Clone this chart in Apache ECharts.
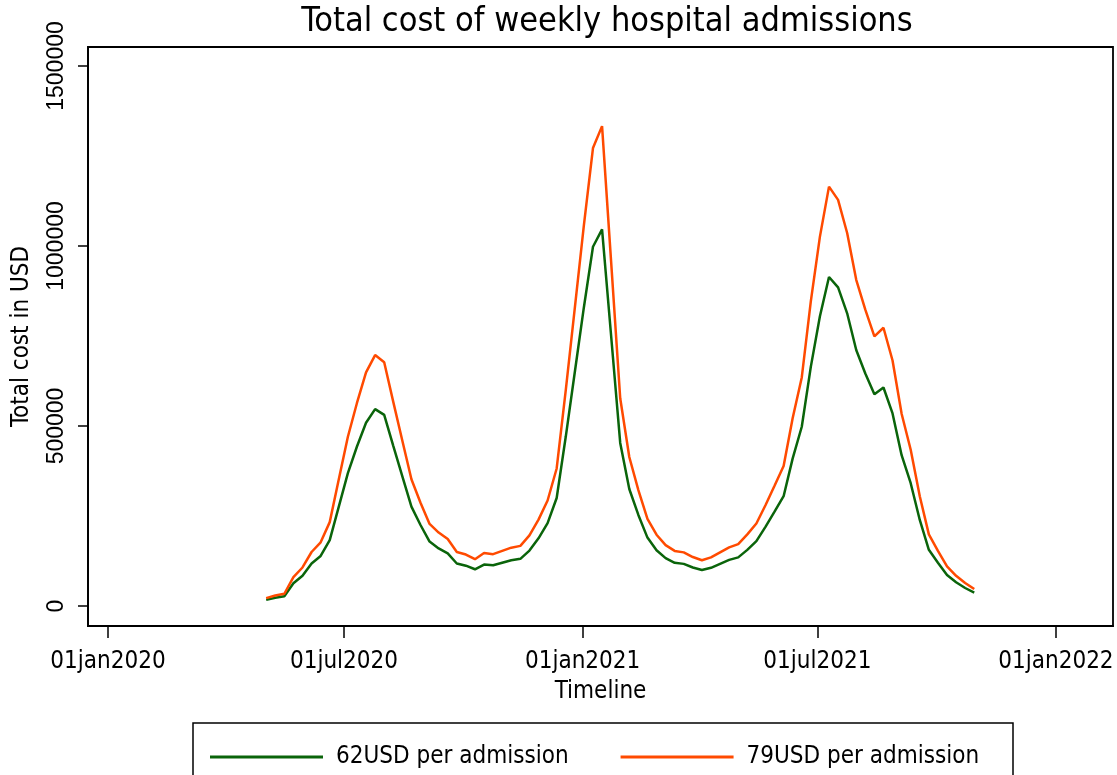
<!DOCTYPE html>
<html>
<head>
<meta charset="utf-8">
<script src="https://cdn.jsdelivr.net/npm/echarts@6/dist/echarts.min.js"></script>
<style>
  html, body { margin: 0; padding: 0; background: #fff; }
  #chart { width: 1117px; height: 775px; }
</style>
</head>
<body>
<div id="chart"></div>
<script>
// first week and weekly step (categories on the time axis)
const startDate = Date.UTC(2020, 4, 2);
const weekMs = 7 * 24 * 3600 * 1000;

// total cost, 62 USD per admission
const cost62 = [
  17000, 23000, 27000, 63000, 84000, 118000, 139000, 183000, 276000, 369000,
  443000, 509000, 547000, 531000, 445000, 360000, 276000, 225000, 179000, 160000,
  146000, 118000, 112000, 102000, 115000, 113000, 120000, 127000, 131000, 154000,
  188000, 230000, 300000, 470000, 650000, 830000, 998000, 1046000, 750000, 453000,
  325000, 253000, 190000, 155000, 133000, 120000, 117000, 107000, 100000, 106000,
  117000, 128000, 135000, 156000, 180000, 220000, 262000, 305000, 410000, 498000,
  665000, 805000, 914000, 885000, 813000, 711000, 646000, 588000, 607000, 535000,
  419000, 341000, 239000, 156000, 120000, 86000, 66000, 50000, 37000
];

// total cost, 79 USD per admission
const cost79 = [
  22000, 29000, 34000, 80000, 107000, 150000, 177000, 233000, 352000, 470000,
  564000, 649000, 697000, 677000, 567000, 459000, 352000, 287000, 228000, 204000,
  186000, 150000, 143000, 130000, 147000, 144000, 153000, 162000, 167000, 196000,
  240000, 293000, 382000, 599000, 828000, 1058000, 1272000, 1333000, 956000, 577000,
  414000, 322000, 242000, 198000, 169000, 153000, 149000, 136000, 127000, 135000,
  149000, 163000, 172000, 199000, 229000, 280000, 334000, 389000, 522000, 635000,
  847000, 1026000, 1165000, 1128000, 1036000, 906000, 823000, 749000, 773000, 682000,
  534000, 434000, 305000, 199000, 153000, 110000, 84000, 64000, 47000
];

const yTicks = [0, 500000, 1000000, 1500000];
const xTicks = [
  Date.UTC(2020, 0, 1), Date.UTC(2020, 6, 1), Date.UTC(2021, 0, 1),
  Date.UTC(2021, 6, 1), Date.UTC(2022, 0, 1)
];
const monthNames = ["jan", "feb", "mar", "apr", "may", "jun", "jul", "aug", "sep", "oct", "nov", "dec"];

const narrow = "'Liberation Sans Narrow', 'DejaVu Sans Condensed', 'Liberation Sans', sans-serif";
const dayMs = 24 * 3600 * 1000;

const weeks = cost62.map((v, i) => startDate + i * weekMs);
const fmtDate = v => {
  const d = new Date(v);
  return "01" + monthNames[d.getUTCMonth()] + d.getUTCFullYear();
};

const chart = echarts.init(document.getElementById("chart"));

const option = {
  backgroundColor: "#fff",
  animation: false,
  title: {
    text: "Total cost of weekly hospital admissions",
    left: 602,
    top: 0,
    textAlign: "center",
    textStyle: { fontFamily: narrow, fontSize: 34, fontWeight: "normal", color: "#000" }
  },
  grid: {
    left: 88, top: 47, right: 4, bottom: 149,
    show: true, borderColor: "#000", borderWidth: 1.8
  },
  xAxis: {
    type: "value",
    min: Date.UTC(2020, 0, 1) - 15.4 * dayMs,
    max: Date.UTC(2020, 0, 1) + 775 * dayMs,
    name: "Timeline",
    nameLocation: "middle",
    nameGap: 54,
    nameTextStyle: { fontFamily: narrow, fontSize: 24, color: "#000" },
    axisLine: { show: true, onZero: false, lineStyle: { color: "#000", width: 1.8 } },
    axisTick: { show: true, length: 12, customValues: xTicks, lineStyle: { color: "#000", width: 1.5 } },
    axisLabel: {
      customValues: xTicks,
      formatter: fmtDate,
      margin: 24,
      fontFamily: narrow, fontSize: 24, color: "#000"
    },
    splitLine: { show: false }
  },
  yAxis: {
    type: "value",
    min: -55556,
    max: 1552778,
    name: "Total cost in USD",
    nameLocation: "middle",
    nameRotate: 90,
    nameGap: 54,
    nameTextStyle: { fontFamily: narrow, fontSize: 24, color: "#000" },
    axisLine: { show: true, lineStyle: { color: "#000", width: 1.8 } },
    axisTick: { show: true, length: 10, customValues: yTicks, lineStyle: { color: "#000", width: 1.5 } },
    axisLabel: {
      customValues: yTicks,
      formatter: v => String(v),
      rotate: 90,
      margin: 20,
      fontFamily: "'Liberation Sans', Arial, sans-serif", fontSize: 23, color: "#000"
    },
    splitLine: { show: false }
  },
  legend: {
    left: 205,
    top: 740,
    itemWidth: 113,
    itemHeight: 3,
    itemGap: 52,
    icon: "rect",
    textStyle: { fontFamily: narrow, fontSize: 24, color: "#000", padding: [0, 0, 0, 8] },
    data: ["62USD per admission", "79USD per admission"]
  },
  graphic: [{
    type: "rect",
    shape: { x: 193, y: 723, width: 820, height: 80 },
    style: { fill: "none", stroke: "#000", lineWidth: 1.5 },
    silent: true
  }],
  series: [
    {
      name: "62USD per admission",
      type: "line",
      symbol: "none",
      data: weeks.map((t, i) => [t, cost62[i]]),
      lineStyle: { color: "#0a640a", width: 2.5 },
      itemStyle: { color: "#0a640a" }
    },
    {
      name: "79USD per admission",
      type: "line",
      symbol: "none",
      data: weeks.map((t, i) => [t, cost79[i]]),
      lineStyle: { color: "#ff4a00", width: 2.5 },
      itemStyle: { color: "#ff4a00" }
    }
  ]
};

chart.setOption(option);
</script>
</body>
</html>
